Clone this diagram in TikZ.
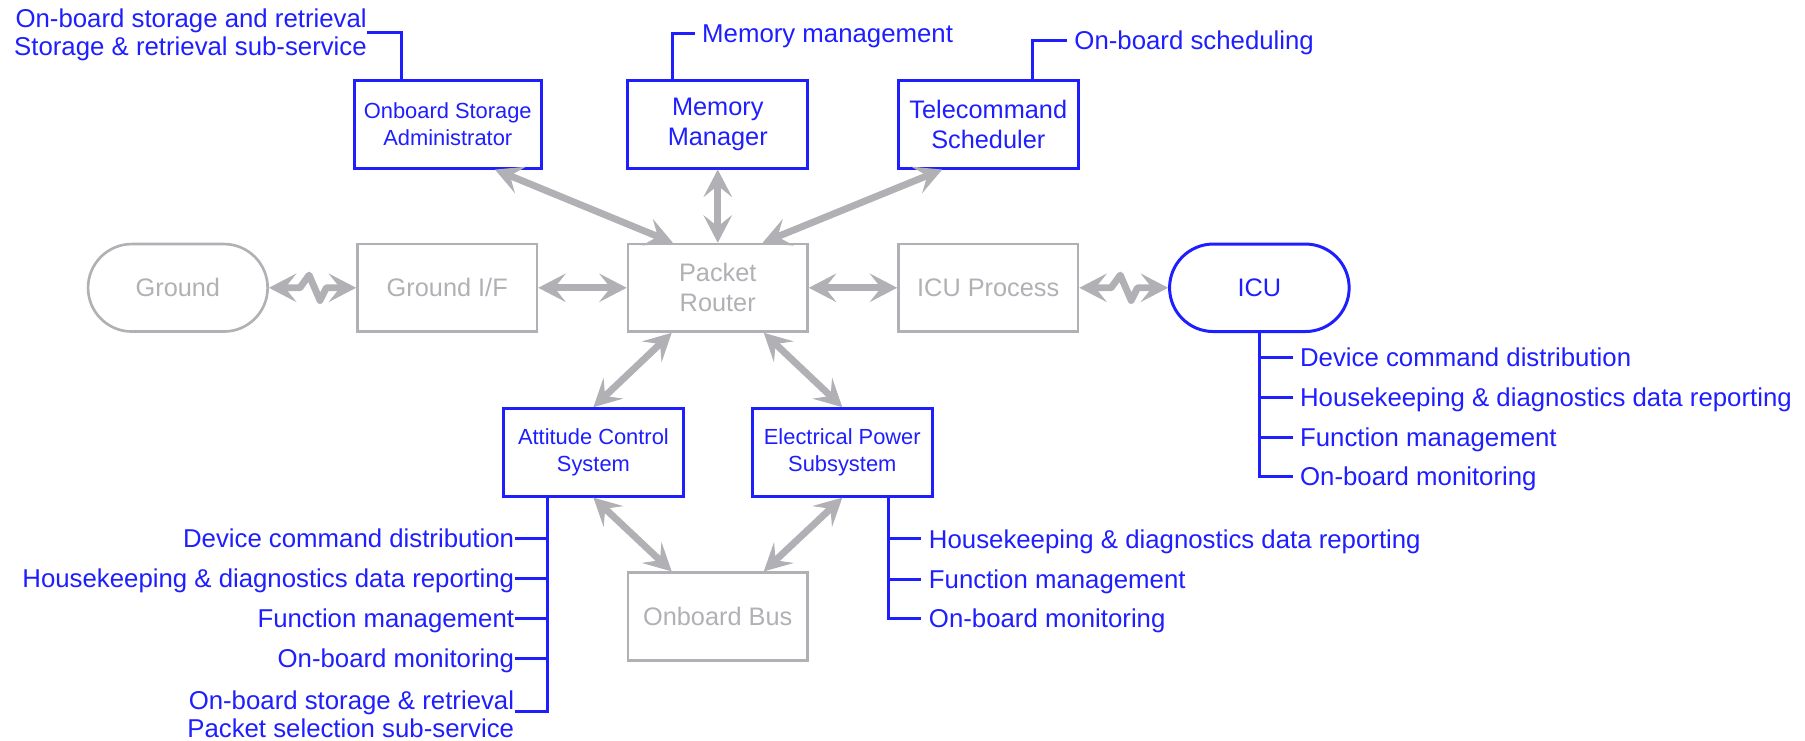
\documentclass[tikz,border=0pt]{standalone}
\usepackage{fontspec}
\setmainfont{Liberation Sans}
\usetikzlibrary{arrows.meta,calc}
\definecolor{nodeblue}{RGB}{30,30,255}
\definecolor{linkgray}{RGB}{176,176,181}

\begin{document}
\begin{tikzpicture}[x=0.5pt,y=-0.5pt,
  box/.style={rectangle, minimum width=78pt, minimum height=38pt, inner sep=0pt, align=center},
  activebox/.style={box, draw=nodeblue, line width=1.3pt, text=nodeblue, font=\fontsize{11}{13}\selectfont},
  smallactive/.style={activebox, font=\fontsize{9.5}{11.6}\selectfont},
  passivebox/.style={box, draw=linkgray, line width=1.15pt, text=linkgray, font=\fontsize{11}{13}\selectfont},
  terminal/.style={rounded corners=19pt},
  link/.style={draw=linkgray, line width=3pt, line join=round,
    {Stealth[length=12pt,width=12.5pt,inset=5pt,line width=0.5pt]}-{Stealth[length=12pt,width=12.5pt,inset=5pt,line width=0.5pt]}},
  leader/.style={draw=nodeblue, line width=1.3pt, line join=miter},
  svc/.style={text=nodeblue, inner sep=0pt, font=\fontsize{11.2}{12.4}\selectfont},
  svcone/.style={svc, text height=8.02pt, text depth=0pt},
]
\useasboundingbox (0,0) rectangle (1568,643);

% ---- upper row: on-board services
\node[smallactive, minimum width=81pt] (osa) at (389,108) {Onboard Storage\\Administrator};
\node[activebox] (mm)  at (623.5,108) {Memory\\Manager};
\node[activebox] (tcs) at (858.5,108) {Telecommand\\Scheduler};

% ---- middle row: ground link, router, instrument
\node[passivebox, terminal] (gnd) at (154.5,250) {Ground};
\node[passivebox] (gif)  at (388.5,250) {Ground I/F};
\node[passivebox] (pr)   at (623.5,250) {Packet\\Router};
\node[passivebox] (icup) at (858.5,250) {ICU Process};
\node[activebox, terminal] (icu) at (1094,250) {ICU};

% ---- lower rows: subsystems and bus
\node[smallactive] (acs) at (515.5,393) {Attitude Control\\System};
\node[smallactive] (eps) at (731.7,393) {Electrical Power\\Subsystem};
\node[passivebox] (bus) at (623.5,535.5) {Onboard Bus};

% ---- packet links
\draw[link] ([xshift=20.5pt]osa.south) -- ([xshift=-19.5pt]pr.north);
\draw[link] (mm) -- (pr);
\draw[link] ([xshift=-20pt]tcs.south) -- ([xshift=19.5pt]pr.north);
\draw[link] (gif) -- (pr);
\draw[link] (pr) -- (icup);
\draw[link] ([xshift=-20pt]pr.south) -- (acs.north);
\draw[link] ([xshift=20pt]pr.south) -- (eps.north);
\draw[link] (acs.south) -- ([xshift=-20pt]bus.north);
\draw[link] (eps.south) -- ([xshift=20pt]bus.north);

% ---- radio links (zigzag)
\coordinate (gz) at ($(gnd.east)!0.5!(gif.west)$);
\draw[link] (gnd.east) -- ([xshift=-5.5pt]gz) -- ([xshift=-1.5pt,yshift=5.5pt]gz)
  -- ([xshift=3.25pt,yshift=-5.5pt]gz) -- ([xshift=6pt]gz) -- (gif.west);
\coordinate (iz) at ($(icup.east)!0.5!(icu.west)$);
\draw[link] (icup.east) -- ([xshift=-5.5pt]iz) -- ([xshift=-1.5pt,yshift=5.5pt]iz)
  -- ([xshift=3.25pt,yshift=-5.5pt]iz) -- ([xshift=6pt]iz) -- (icu.west);

% ---- service labels
\node[svc, anchor=east, align=right] (osaS) at (319,30.2)
  {On-board storage and retrieval\\Storage \& retrieval sub-service};
\draw[leader] ([xshift=-20.3pt]osa.north) |- ([yshift=1.1pt]osaS.east);

\node[svcone, anchor=west] (mmS) at (609.6,29) {Memory management};
\draw[leader] ([xshift=-19.5pt]mm.north) |- ([xshift=-3pt]mmS.west);

\node[svcone, anchor=west] (tcsS) at (933,35.3) {On-board scheduling};
\draw[leader] ([xshift=19.4pt]tcs.north) |- ([xshift=-3.2pt]tcsS.west);

% ICU services
\node[svcone, anchor=west] (icu1) at (1129,310.7) {Device command distribution};
\node[svcone, anchor=west] (icu2) at (1129,345.2) {Housekeeping \& diagnostics data reporting};
\node[svcone, anchor=west] (icu3) at (1129,379.8) {Function management};
\node[svcone, anchor=west] (icu4) at (1129,414) {On-board monitoring};
\draw[leader] (icu.south) |- ([xshift=-3pt]icu4.west);
\foreach \s in {icu1,icu2,icu3}
  \draw[leader] (\s.west -| icu.south) -- ([xshift=-3pt]\s.west);

% Attitude control services
\node[svcone, anchor=east] (acs1) at (447,467.6) {Device command distribution};
\node[svcone, anchor=east] (acs2) at (447,502.4) {Housekeeping \& diagnostics data reporting};
\node[svcone, anchor=east] (acs3) at (447,537.1) {Function management};
\node[svcone, anchor=east] (acs4) at (447,571.9) {On-board monitoring};
\node[svc, anchor=east, align=right] (acs5) at (447,620.4)
  {On-board storage \& retrieval\\Packet selection sub-service};
\coordinate (acsV) at ([xshift=-20pt]acs.south);
\draw[leader] (acsV) |- ([yshift=1.1pt]acs5.east);
\foreach \s in {acs1,acs2,acs3,acs4}
  \draw[leader] (\s.east -| acsV) -- (\s.east);

% Power subsystem services
\node[svcone, anchor=west] (eps1) at (806.6,468.2) {Housekeeping \& diagnostics data reporting};
\node[svcone, anchor=west] (eps2) at (806.6,503) {Function management};
\node[svcone, anchor=west] (eps3) at (806.6,537) {On-board monitoring};
\coordinate (epsV) at ([xshift=20pt]eps.south);
\draw[leader] (epsV) |- ([xshift=-3.1pt]eps3.west);
\foreach \s in {eps1,eps2}
  \draw[leader] (\s.west -| epsV) -- ([xshift=-3.1pt]\s.west);
\end{tikzpicture}
\end{document}
